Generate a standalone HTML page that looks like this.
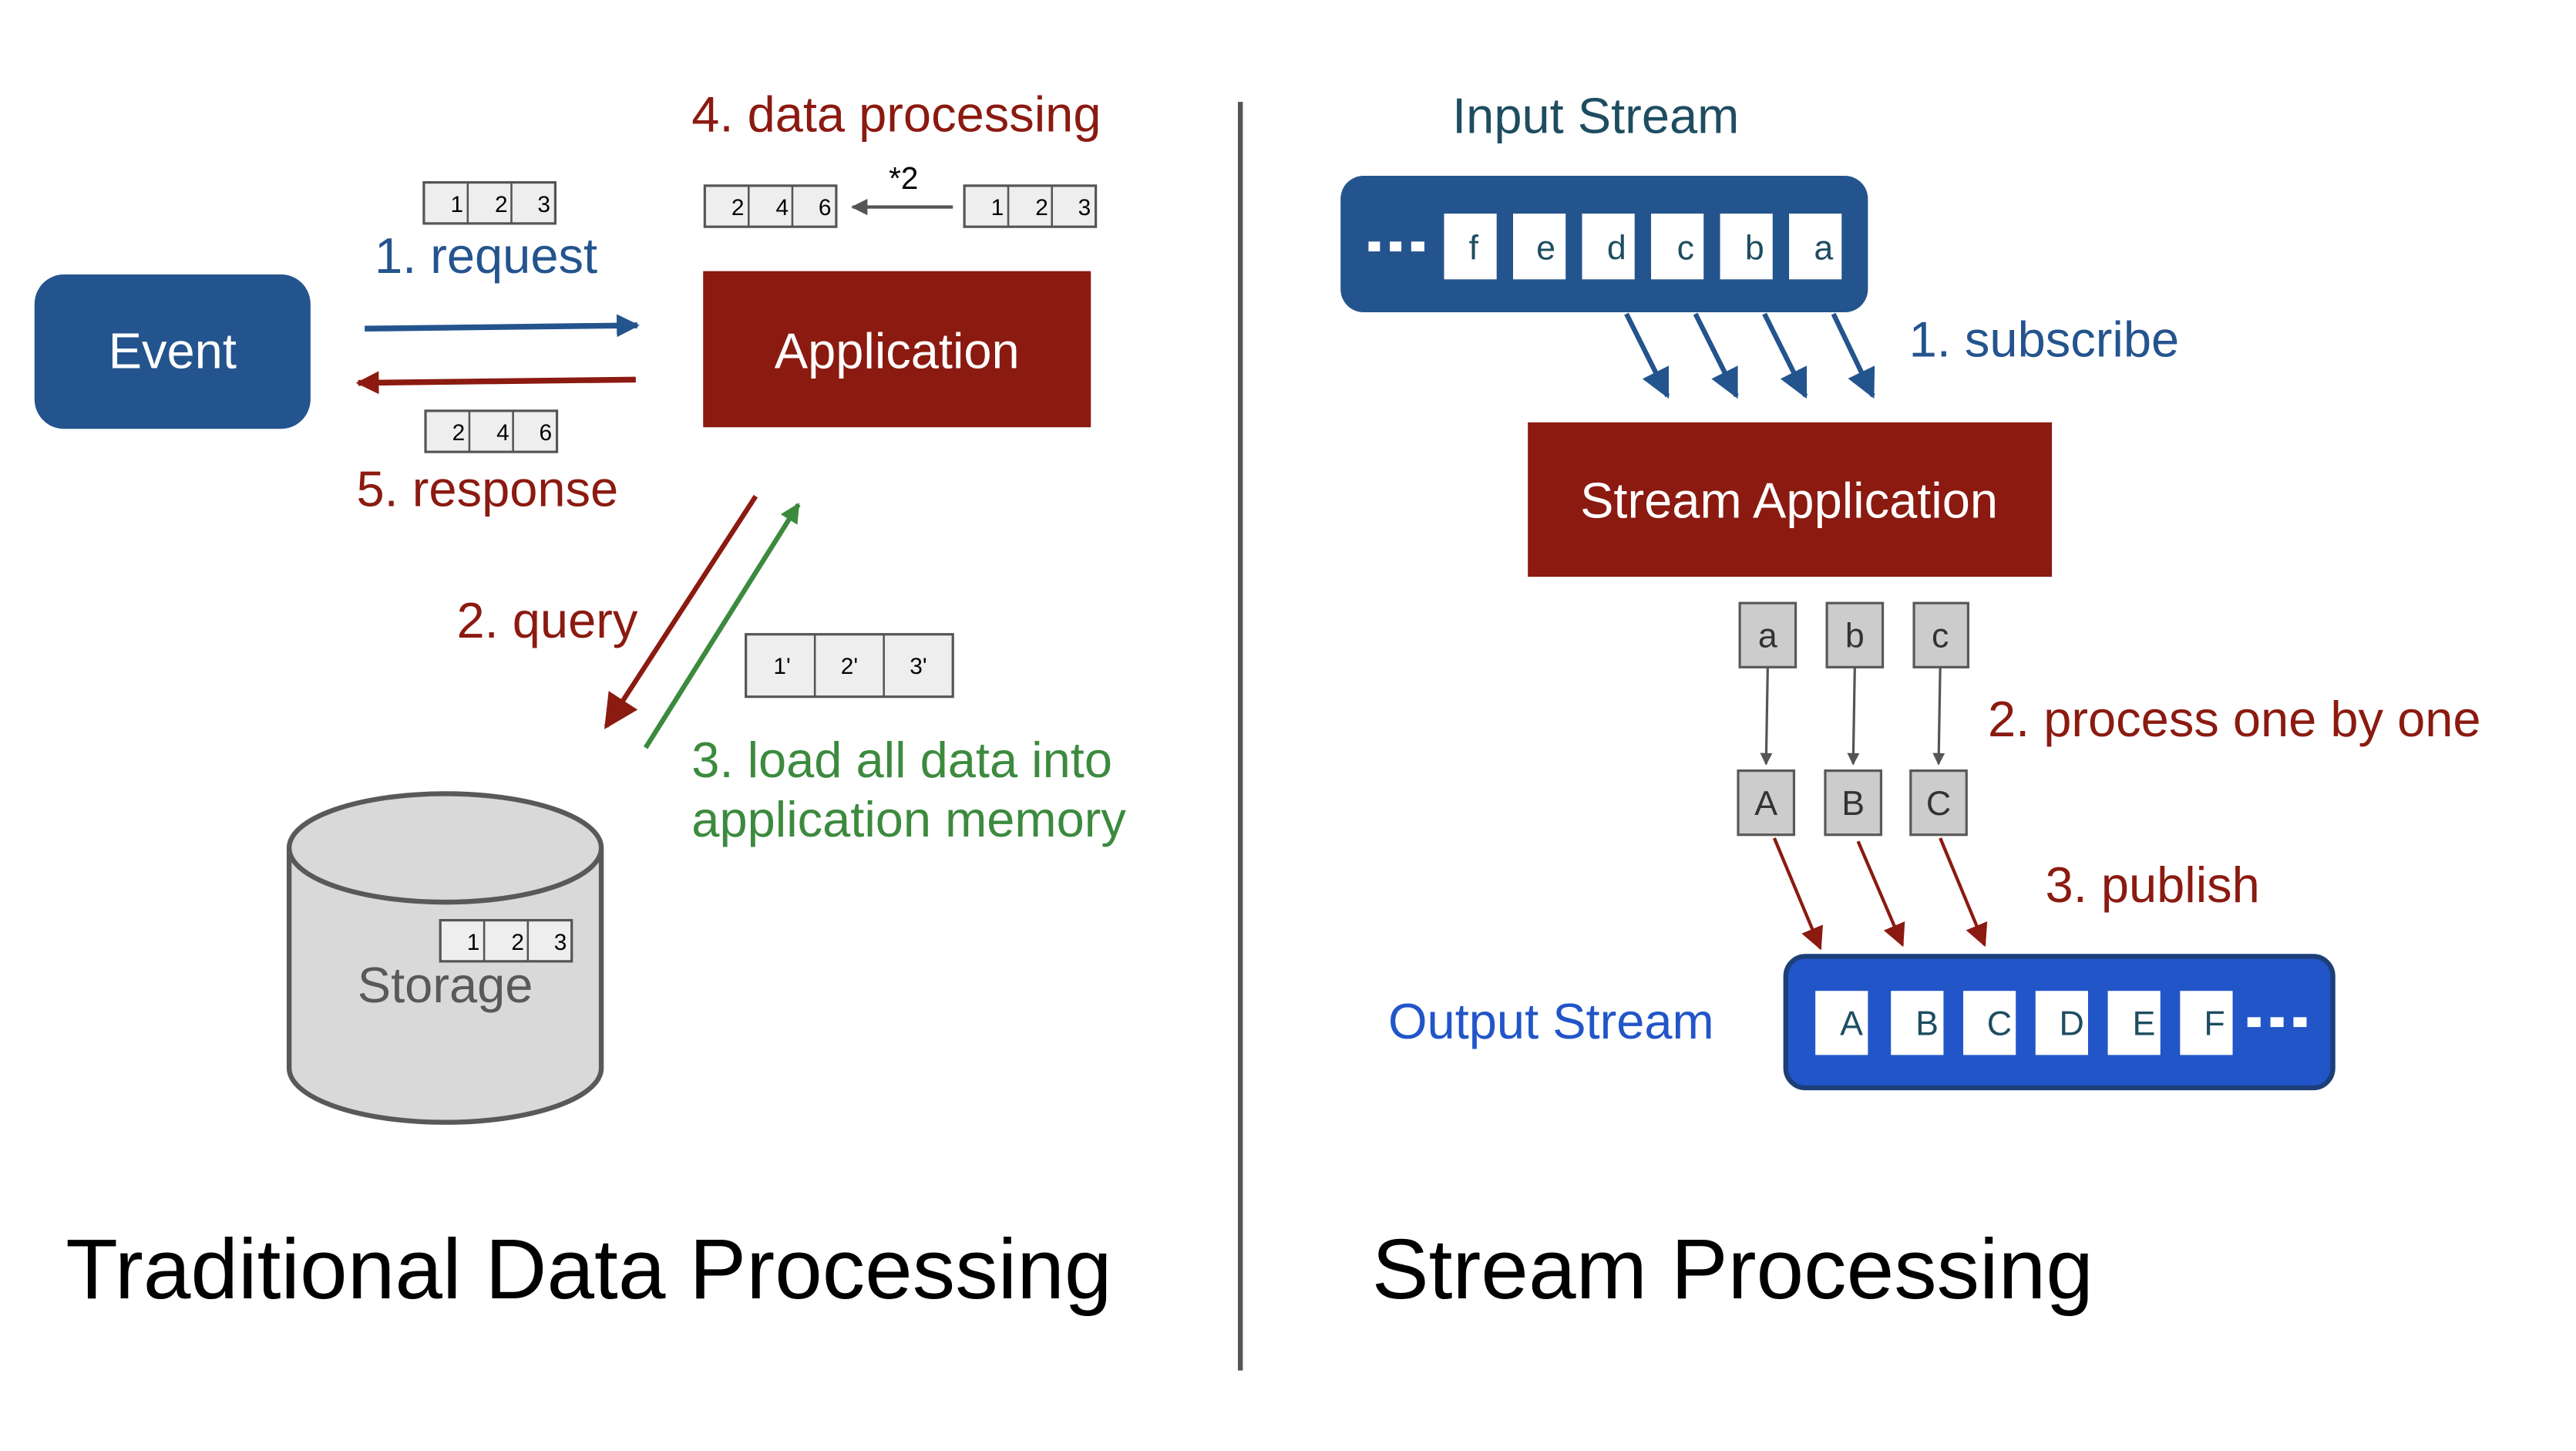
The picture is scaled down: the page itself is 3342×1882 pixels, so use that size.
<!DOCTYPE html>
<html><head><meta charset="utf-8"><style>
html,body{margin:0;padding:0;background:#fff;}
svg{display:block;}
text{font-family:"Liberation Sans",Arial,sans-serif;}
</style></head><body>
<svg width="3342" height="1882" viewBox="0 0 1568 883" preserveAspectRatio="none" xmlns="http://www.w3.org/2000/svg">
<defs>
<marker id="hb" viewBox="0 0 10 10" refX="9" refY="5" markerWidth="4" markerHeight="4" orient="auto" markerUnits="strokeWidth"><path d="M0,0L10,5L0,10z" fill="#24548E"/></marker>
<marker id="hr" viewBox="0 0 10 10" refX="9" refY="5" markerWidth="4" markerHeight="4" orient="auto" markerUnits="strokeWidth"><path d="M0,0L10,5L0,10z" fill="#8B1A10"/></marker>
<marker id="hg" viewBox="0 0 10 10" refX="9" refY="5" markerWidth="4" markerHeight="4" orient="auto" markerUnits="strokeWidth"><path d="M0,0L10,5L0,10z" fill="#3C8A3E"/></marker>
<marker id="hk" viewBox="0 0 10 10" refX="9" refY="5" markerWidth="5" markerHeight="5" orient="auto" markerUnits="strokeWidth"><path d="M0,0L10,5L0,10z" fill="#555"/></marker>
<marker id="hs" viewBox="0 0 10 10" refX="9" refY="5" markerWidth="7" markerHeight="7" orient="auto" markerUnits="strokeWidth"><path d="M0,0L10,5L0,10z" fill="#8B1A10"/></marker>
<marker id="hsb" viewBox="0 0 10 10" refX="9" refY="5" markerWidth="6" markerHeight="6" orient="auto" markerUnits="strokeWidth"><path d="M0,0L10,5L0,10z" fill="#24548E"/></marker>
<g id="c3">
<rect x="0" y="0" width="80" height="25" fill="#eee" stroke="#555" stroke-width="1.5"/>
<line x1="26.7" y1="0" x2="26.7" y2="25" stroke="#555" stroke-width="1.2"/>
<line x1="53.3" y1="0" x2="53.3" y2="25" stroke="#555" stroke-width="1.2"/>
</g>
</defs>

<text x="421" y="80" font-size="30.5" fill="#8B1A10">4. data processing</text>
<text x="228" y="166" font-size="30.5" fill="#24548E">1. request</text>
<text x="217" y="308" font-size="30.5" fill="#8B1A10">5. response</text>
<text x="278" y="388" font-size="30.5" fill="#8B1A10">2. query</text>
<text x="421" y="473" font-size="30.5" fill="#3C8A3E">3. load all data into</text>
<text x="421" y="509" font-size="30.5" fill="#3C8A3E">application memory</text>

<g font-size="14" fill="#000" text-anchor="end">
<use href="#c3" x="258" y="111"/><text x="282" y="129">1</text><text x="309" y="129">2</text><text x="335" y="129">3</text>
<use href="#c3" x="429" y="113"/><text x="453" y="131">2</text><text x="480" y="131">4</text><text x="506" y="131">6</text>
<use href="#c3" x="587" y="113"/><text x="611" y="131">1</text><text x="638" y="131">2</text><text x="664" y="131">3</text>
<use href="#c3" x="259" y="250"/><text x="283" y="268">2</text><text x="310" y="268">4</text><text x="336" y="268">6</text>
</g>
<text x="541" y="115" font-size="19" fill="#000">*2</text>
<line x1="580" y1="126" x2="519" y2="126" stroke="#555" stroke-width="2" marker-end="url(#hk)"/>

<rect x="21" y="167" width="168" height="94" rx="18" fill="#24548E"/>
<text x="105" y="224" font-size="30.5" fill="#fff" text-anchor="middle">Event</text>
<rect x="428" y="165" width="236" height="95" fill="#8B1A10"/>
<text x="546" y="224" font-size="30.5" fill="#fff" text-anchor="middle">Application</text>

<line x1="222" y1="200" x2="388" y2="198" stroke="#24548E" stroke-width="3.5" marker-end="url(#hb)"/>
<line x1="387" y1="231" x2="218" y2="233" stroke="#8B1A10" stroke-width="3.5" marker-end="url(#hr)"/>
<line x1="460" y1="302" x2="369" y2="442" stroke="#8B1A10" stroke-width="3" marker-end="url(#hs)"/>
<line x1="393" y1="455" x2="486" y2="307" stroke="#3C8A3E" stroke-width="3" marker-end="url(#hg)"/>

<rect x="454" y="386" width="126" height="38" fill="#eee" stroke="#555" stroke-width="1.5"/>
<line x1="496" y1="386" x2="496" y2="424" stroke="#555" stroke-width="1.2"/>
<line x1="538" y1="386" x2="538" y2="424" stroke="#555" stroke-width="1.2"/>
<g font-size="14" fill="#000" text-anchor="middle"><text x="476" y="410">1'</text><text x="517" y="410">2'</text><text x="559" y="410">3'</text></g>

<path d="M176,516 L176,650 A95,33 0 0 0 366,650 L366,516" fill="#D9D9D9" stroke="#595959" stroke-width="3"/>
<ellipse cx="271" cy="516" rx="95" ry="33" fill="#D9D9D9" stroke="#595959" stroke-width="3"/>
<use href="#c3" x="268" y="560"/>
<g font-size="14" fill="#000" text-anchor="end"><text x="292" y="578">1</text><text x="319" y="578">2</text><text x="345" y="578">3</text></g>
<text x="271" y="610" font-size="30.5" fill="#595959" text-anchor="middle">Storage</text>

<text x="40" y="790" font-size="52" fill="#000">Traditional Data Processing</text>
<line x1="755" y1="62" x2="755" y2="834" stroke="#555" stroke-width="3"/>

<text x="884" y="81" font-size="30.5" fill="#1E4D61">Input Stream</text>
<rect x="816" y="107" width="321" height="83" rx="14" fill="#24548E"/>
<g fill="#fff"><rect x="833" y="147" width="7" height="6"/><rect x="846" y="147" width="7" height="6"/><rect x="859" y="147" width="8" height="6"/></g>
<g fill="#fff">
<rect x="879" y="130" width="32" height="40"/><rect x="921" y="130" width="32" height="40"/><rect x="963" y="130" width="32" height="40"/>
<rect x="1005" y="130" width="32" height="40"/><rect x="1047" y="130" width="32" height="40"/><rect x="1089" y="130" width="32" height="40"/>
</g>
<g font-size="21" fill="#1E4D61" text-anchor="middle">
<text x="897" y="158">f</text><text x="941" y="158">e</text><text x="984" y="158">d</text><text x="1026" y="158">c</text><text x="1068" y="158">b</text><text x="1110" y="158">a</text>
</g>
<g stroke="#24548E" stroke-width="3">
<line x1="990" y1="191" x2="1015" y2="241" marker-end="url(#hsb)"/>
<line x1="1032" y1="191" x2="1057" y2="241" marker-end="url(#hsb)"/>
<line x1="1074" y1="191" x2="1099" y2="241" marker-end="url(#hsb)"/>
<line x1="1116" y1="191" x2="1140" y2="241" marker-end="url(#hsb)"/>
</g>
<text x="1162" y="217" font-size="30.5" fill="#24548E">1. subscribe</text>

<rect x="930" y="257" width="319" height="94" fill="#8B1A10"/>
<text x="1089" y="315" font-size="30.5" fill="#fff" text-anchor="middle">Stream Application</text>

<g fill="#ccc" stroke="#595959" stroke-width="1.5">
<rect x="1059" y="367" width="34" height="39"/><rect x="1112" y="367" width="34" height="39"/><rect x="1165" y="367" width="33" height="39"/>
<rect x="1058" y="469" width="34" height="39"/><rect x="1111" y="469" width="34" height="39"/><rect x="1163" y="469" width="34" height="39"/>
</g>
<g font-size="21" fill="#333" text-anchor="middle">
<text x="1076" y="394">a</text><text x="1129" y="394">b</text><text x="1181" y="394">c</text>
<text x="1075" y="496">A</text><text x="1128" y="496">B</text><text x="1180" y="496">C</text>
</g>
<g stroke="#555" stroke-width="1.5">
<line x1="1076" y1="406" x2="1075" y2="465" marker-end="url(#hk)"/>
<line x1="1129" y1="406" x2="1128" y2="465" marker-end="url(#hk)"/>
<line x1="1181" y1="406" x2="1180" y2="465" marker-end="url(#hk)"/>
</g>
<text x="1210" y="448" font-size="30.5" fill="#8B1A10">2. process one by one</text>
<g stroke="#8B1A10" stroke-width="2">
<line x1="1080" y1="510" x2="1108" y2="577" marker-end="url(#hs)"/>
<line x1="1131" y1="512" x2="1158" y2="575" marker-end="url(#hs)"/>
<line x1="1181" y1="510" x2="1208" y2="575" marker-end="url(#hs)"/>
</g>
<text x="1245" y="549" font-size="30.5" fill="#8B1A10">3. publish</text>

<text x="845" y="632" font-size="30.5" fill="#2255C8">Output Stream</text>
<rect x="1087" y="582" width="333" height="80" rx="12" fill="#2255C8" stroke="#1C3F78" stroke-width="3"/>
<g fill="#fff">
<rect x="1105" y="603" width="32" height="39"/><rect x="1151" y="603" width="32" height="39"/><rect x="1195" y="603" width="32" height="39"/>
<rect x="1239" y="603" width="32" height="39"/><rect x="1283" y="603" width="32" height="39"/><rect x="1327" y="603" width="32" height="39"/>
<rect x="1368" y="619" width="8" height="6"/><rect x="1382" y="619" width="8" height="6"/><rect x="1396" y="619" width="8" height="6"/>
</g>
<g font-size="21" fill="#1E4D61" text-anchor="middle">
<text x="1127" y="630">A</text><text x="1173" y="630">B</text><text x="1217" y="630">C</text>
<text x="1261" y="630">D</text><text x="1305" y="630">E</text><text x="1348" y="630">F</text>
</g>

<text x="835" y="790" font-size="52" fill="#000">Stream Processing</text>
</svg>
</body></html>
